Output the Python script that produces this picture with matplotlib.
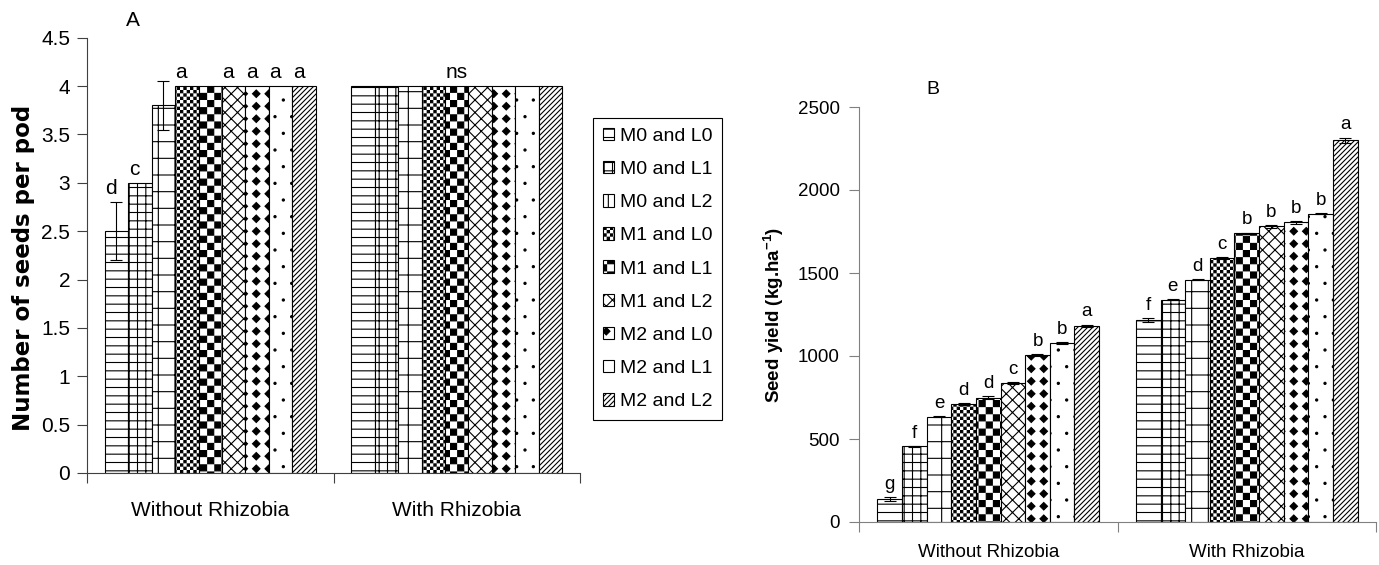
import numpy as np
import matplotlib
matplotlib.use("Agg")
from matplotlib import pyplot as plt
from matplotlib import hatch as mhatch
from matplotlib import font_manager
from matplotlib.path import Path
from matplotlib.ticker import FuncFormatter

groups = ["Without Rhizobia", "With Rhizobia"]
treatments = ["M0 and L0", "M0 and L1", "M0 and L2", "M1 and L0", "M1 and L1",
              "M1 and L2", "M2 and L0", "M2 and L1", "M2 and L2"]

# panel A: number of seeds per pod
seeds_without = [2.5, 3.0, 3.8, 4.0, 4.0, 4.0, 4.0, 4.0, 4.0]
seeds_with = [4.0, 4.0, 4.0, 4.0, 4.0, 4.0, 4.0, 4.0, 4.0]
seeds_err_without = [0.3, 0.0, 0.25, 0.0, 0.0, 0.0, 0.0, 0.0, 0.0]
seeds_letters_without = ["d", "c", "", "a", "", "a", "a", "a", "a"]
seeds_note_with = "ns"

# panel B: seed yield (kg/ha)
yield_without = [138, 455, 635, 710, 750, 835, 1008, 1078, 1183]
yield_with = [1218, 1340, 1460, 1590, 1738, 1782, 1806, 1857, 2300]
yield_err_without = [10, 4, 4, 5, 7, 6, 5, 5, 6]
yield_err_with = [12, 5, 4, 6, 5, 8, 8, 4, 16]
yield_letters_without = ["g", "f", "e", "d", "d", "c", "b", "b", "a"]
yield_letters_with = ["f", "e", "d", "c", "b", "b", "b", "b", "a"]

# one fill pattern per treatment (see custom hatches below)
hatches = ["--", "++", "+", "o", "O", "x", "*", ".", "/"]

MOVETO, LINETO, CLOSEPOLY = Path.MOVETO, Path.LINETO, Path.CLOSEPOLY


class Diagonals(mhatch.HatchPatternBase):
    """'/' dense rising lines, 'x' a diagonal cross."""

    def __init__(self, hatch, density):
        self.rising = 20 * hatch.count("/") + 8 * hatch.count("x")
        self.falling = 8 * hatch.count("x")
        self.num_vertices = sum(2 * (2 * n + 1) for n in (self.rising, self.falling) if n)

    def set_vertices_and_codes(self, vertices, codes):
        lines = []
        if self.rising:
            for c in np.arange(-self.rising, self.rising + 1) / self.rising:
                lines.append([[0, c], [1, 1 + c]])
        if self.falling:
            for c in np.arange(0, 2 * self.falling + 1) / self.falling:
                lines.append([[0, c], [1, c - 1]])
        vertices[:] = np.concatenate(lines)
        codes[0::2] = MOVETO
        codes[1::2] = LINETO


class Checker(mhatch.HatchPatternBase):
    """'o' small and 'O' large checkerboard."""

    def __init__(self, hatch, density):
        self.cells = 30 if "o" in hatch else 14 if "O" in hatch else 0
        self.num_vertices = self.cells ** 2 // 2 * 5

    def set_vertices_and_codes(self, vertices, codes):
        s = 1.0 / self.cells
        pad = 0.0055
        square = np.array([[0, 0], [1, 0], [1, 1], [0, 1], [0, 0]]) * (s - 2 * pad) + pad
        cells = [(i, j) for i in range(self.cells) for j in range(self.cells) if (i + j) % 2 == 0]
        vertices[:] = np.concatenate([square + [i * s, j * s] for i, j in cells])
        codes[:] = np.tile([MOVETO, LINETO, LINETO, LINETO, CLOSEPOLY], len(cells))


class Diamonds(mhatch.HatchPatternBase):
    """'*' solid diamonds on a square grid."""

    def __init__(self, hatch, density):
        self.n = 8 * hatch.count("*")
        self.num_vertices = self.n ** 2 * 5

    def set_vertices_and_codes(self, vertices, codes):
        s = 1.0 / self.n
        r = 0.3 * s
        diamond = np.array([[0, -r], [r, 0], [0, r], [-r, 0], [0, -r]])
        centers = [((i + 0.5) * s, (j + 0.5) * s) for i in range(self.n) for j in range(self.n)]
        vertices[:] = np.concatenate([diamond + c for c in centers])
        codes[:] = np.tile([MOVETO, LINETO, LINETO, LINETO, CLOSEPOLY], len(centers))


class Dots(mhatch.SmallFilledCircles):
    size = 0.065


mhatch._hatch_types[:] = [mhatch.HorizontalHatch, mhatch.VerticalHatch,
                          Dots, Diagonals, Checker, Diamonds]

installed = {f.name for f in font_manager.fontManager.ttflist}
narrow = "Liberation Sans Narrow" if "Liberation Sans Narrow" in installed else "Liberation Sans"

plt.rcParams["font.family"] = ["Liberation Sans", "DejaVu Sans"]
plt.rcParams["mathtext.fontset"] = "custom"
plt.rcParams["mathtext.rm"] = "Liberation Sans"
plt.rcParams["hatch.linewidth"] = 0.8
plt.rcParams["hatch.color"] = "black"

fig = plt.figure(figsize=(13.79, 5.65), dpi=100)
W, H = 1379, 565
ax_a = fig.add_axes([87 / W, 1 - 473 / H, (580 - 87) / W, (473 - 37.7) / H])
ax_b = fig.add_axes([859 / W, 1 - 522 / H, (1376 - 859) / W, (522 - 107) / H])

bar_w = 1 / (len(treatments) + 1.5)


def draw_panel(ax, without, with_, err_without, err_with, letters_without, letters_with,
               font, size, letter_dx):
    bars = []
    for i, name in enumerate(treatments):
        xs = [g + 0.5 + (i - 4) * bar_w for g in range(len(groups))]
        hs = [without[i], with_[i]]
        errs = [err_without[i], err_with[i]]
        b = ax.bar(xs, hs, bar_w, color="white", edgecolor="black", linewidth=0.8,
                   hatch=hatches[i], label=name, zorder=2)
        bars.append(b)
        ex = [x for x, e in zip(xs, errs) if e > 0]
        ey = [h for h, e in zip(hs, errs) if e > 0]
        ee = [e for e in errs if e > 0]
        if ee:
            ax.errorbar(ex, ey, yerr=ee, fmt="none", ecolor="black", elinewidth=0.8,
                        capsize=4, capthick=0.8, zorder=3)
        for x, h, e, lab in zip(xs, hs, errs, [letters_without[i], letters_with[i]]):
            if lab:
                ax.annotate(lab, (x, h + e), xytext=(letter_dx, 3), textcoords="offset points",
                            ha="center", va="bottom", fontsize=size, family=font)
    ax.set_xlim(0, len(groups))
    ax.set_xticks(range(len(groups) + 1), [""] * (len(groups) + 1))
    ax.set_xticks([g + 0.5 for g in range(len(groups))], groups, minor=True)
    ax.spines[["top", "right"]].set_visible(False)
    ax.yaxis.set_major_formatter(FuncFormatter(lambda v, _: f"{v:g}"))
    for lab in ax.get_xticklabels(minor=True) + ax.get_yticklabels():
        lab.set_family(font)
        lab.set_fontsize(size)
    return bars


bars_a = draw_panel(ax_a, seeds_without, seeds_with, seeds_err_without, [0] * 9,
                    seeds_letters_without, [""] * 9, narrow, 15, -4)
ax_a.annotate(seeds_note_with, (1.5, max(seeds_with)), xytext=(0, 3), textcoords="offset points",
              ha="center", va="bottom", fontsize=15, family=narrow)
ax_a.set_ylim(0, 4.5)
ax_a.set_yticks(np.arange(0, 4.51, 0.5))
for sp in ax_a.spines.values():
    sp.set_color("#404040")
ax_a.tick_params(axis="both", which="major", length=7, color="#404040", width=0.8)
ax_a.tick_params(axis="y", pad=5)
ax_a.tick_params(axis="x", which="minor", length=0, pad=20)
ax_a.set_ylabel("Number of seeds per pod", fontsize=16.5, fontweight="bold", va="center",
                family="DejaVu Sans")
ax_a.yaxis.set_label_coords(-0.128, 0.47)

leg = ax_a.legend(handles=bars_a, loc="center left", bbox_to_anchor=(593 / W, 1 - 269 / H),
                  bbox_transform=fig.transFigure, borderaxespad=0,
                  prop={"family": narrow, "size": 14},
                  handlelength=0.6, handleheight=0.6, handletextpad=0.3, labelspacing=0.83,
                  borderpad=0.5, fancybox=False, edgecolor="black", framealpha=1)
leg.get_frame().set_linewidth(0.8)

draw_panel(ax_b, yield_without, yield_with, yield_err_without, yield_err_with,
           yield_letters_without, yield_letters_with, "Liberation Sans", 13.5, 0)
ax_b.set_ylim(0, 2500)
ax_b.set_yticks(np.arange(0, 2501, 500))
for sp in ax_b.spines.values():
    sp.set_color("#808080")
ax_b.tick_params(axis="both", which="major", length=7, color="#808080", width=0.8)
ax_b.tick_params(axis="y", pad=7)
ax_b.tick_params(axis="x", which="minor", length=0, pad=16)
ax_b.set_ylabel(r"Seed yield (kg.ha$^{\mathregular{-1}}$)", fontsize=13.5, fontweight="bold",
                va="center")
ax_b.yaxis.set_label_coords(-0.165, 0.5)

fig.text(133 / W, 1 - 20 / H, "A", ha="center", va="center", fontsize=15, family=narrow)
fig.text(933 / W, 1 - 90 / H, "B", ha="center", va="center", fontsize=14)

fig.savefig("out.png", dpi=100)
